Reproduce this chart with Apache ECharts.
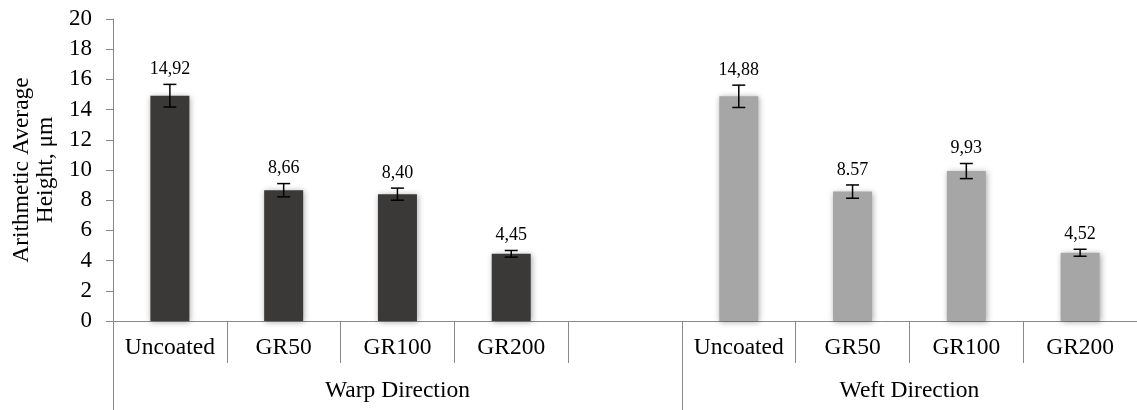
<!DOCTYPE html>
<html lang="en">
<head>
    <meta charset="UTF-8">
    <title>Arithmetic Average Height</title>
    <script src="https://cdn.jsdelivr.net/npm/echarts@6/dist/echarts.min.js"></script>
    <style>
        html, body { margin: 0; padding: 0; background: #fff; }
        #chart { width: 1137px; height: 410px; }
    </style>
</head>
<body>
    <div id="chart"></div>
    <script type="text/javascript">
        // categories along the axis (empty slot between the two groups)
        var categories = ['Uncoated', 'GR50', 'GR100', 'GR200', '', 'Uncoated', 'GR50', 'GR100', 'GR200'];
        var groups = ['Warp Direction', 'Weft Direction'];
        var groupBounds = [0, 5, 9];
        var groupLabelPos = [2.5, 7];

        var warpValues = [14.92, 8.66, 8.40, 4.45, '-', '-', '-', '-', '-'];
        var weftValues = ['-', '-', '-', '-', '-', 14.88, 8.57, 9.93, 4.52];
        var errors = [0.75, 0.44, 0.40, 0.22, null, 0.74, 0.44, 0.50, 0.23];
        var valueLabels = ['14,92', '8,66', '8,40', '4,45', '', '14,88', '8.57', '9,93', '4,52'];
        var yTicks = [0, 20, 2];

        var font = 'Liberation Serif';
        var axisGray = '#898989';

        var errData = [];
        for (var i = 0; i < categories.length; i++) {
            var v = warpValues[i] !== '-' ? warpValues[i] : weftValues[i];
            if (v === '-' || errors[i] == null) continue;
            errData.push([i, v - errors[i], v + errors[i], valueLabels[i]]);
        }

        var barShadow = {
            shadowBlur: 6,
            shadowColor: 'rgba(0,0,0,0.35)',
            shadowOffsetX: 1,
            shadowOffsetY: 1
        };

        var myChart = echarts.init(document.getElementById('chart'));
        var option = {
            animation: false,
            textStyle: { fontFamily: font },
            grid: { left: 113, top: 19, height: 302, width: 1031 },
            xAxis: [{
                type: 'category',
                data: categories,
                axisLine: { lineStyle: { color: axisGray, width: 1 } },
                axisTick: { show: true, interval: 0, length: 42, lineStyle: { color: axisGray } },
                axisLabel: { interval: 0, margin: 15, color: '#000', fontFamily: font, fontSize: 23.5 }
            }, {
                type: 'value',
                min: 0,
                max: 9,
                position: 'bottom',
                axisLine: { show: false },
                splitLine: { show: false },
                axisTick: { show: true, customValues: groupBounds, length: 95, lineStyle: { color: axisGray } },
                axisLabel: {
                    customValues: groupLabelPos,
                    margin: 58,
                    color: '#000',
                    fontFamily: font,
                    fontSize: 23.5,
                    formatter: function (val) {
                        return val < 5 ? groups[0] : groups[1];
                    }
                }
            }],
            yAxis: {
                type: 'value',
                min: yTicks[0],
                max: yTicks[1],
                interval: yTicks[2],
                name: 'Arithmetic Average\nHeight, μm',
                nameLocation: 'middle',
                nameRotate: 90,
                nameGap: 54,
                nameTextStyle: { color: '#000', fontFamily: font, fontSize: 23.5, lineHeight: 24 },
                axisLine: { show: true, lineStyle: { color: axisGray } },
                axisTick: { show: true, length: 7, lineStyle: { color: axisGray } },
                splitLine: { show: false },
                axisLabel: { margin: 21, color: '#000', fontFamily: font, fontSize: 23 }
            },
            series: [{
                name: 'Warp',
                type: 'bar',
                data: warpValues,
                barWidth: 39,
                barGap: '-100%',
                itemStyle: Object.assign({ color: '#3a3937' }, barShadow)
            }, {
                name: 'Weft',
                type: 'bar',
                data: weftValues,
                barWidth: 39,
                barGap: '-100%',
                itemStyle: Object.assign({ color: '#a6a6a6' }, barShadow)
            }, {
                name: 'error',
                type: 'custom',
                data: errData,
                z: 10,
                renderItem: function (params, api) {
                    var x = api.value(0);
                    var lo = api.coord([x, api.value(1)]);
                    var hi = api.coord([x, api.value(2)]);
                    var half = 6.5;
                    var style = { stroke: '#000', lineWidth: 1.5 };
                    return {
                        type: 'group',
                        children: [
                            { type: 'line', shape: { x1: lo[0], y1: lo[1], x2: hi[0], y2: hi[1] }, style: style },
                            { type: 'line', shape: { x1: lo[0] - half, y1: lo[1], x2: lo[0] + half, y2: lo[1] }, style: style },
                            { type: 'line', shape: { x1: hi[0] - half, y1: hi[1], x2: hi[0] + half, y2: hi[1] }, style: style },
                            {
                                type: 'text',
                                x: hi[0],
                                y: hi[1] - 6,
                                style: {
                                    text: api.value(3),
                                    fill: '#000',
                                    fontFamily: font,
                                    fontSize: 18,
                                    textAlign: 'center',
                                    textVerticalAlign: 'bottom'
                                }
                            }
                        ]
                    };
                }
            }]
        };
        myChart.setOption(option);
    </script>
</body>
</html>
